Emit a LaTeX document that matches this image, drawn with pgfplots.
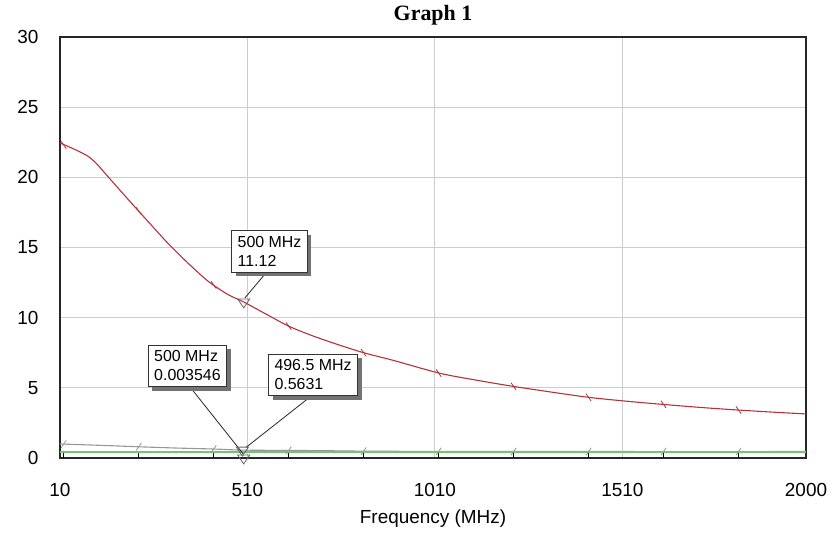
\documentclass[border=0pt]{standalone}
\usepackage{fontspec}
\setmainfont{Liberation Sans}
\newfontfamily\titlefont{Liberation Serif}
\usepackage{pgfplots}
\pgfplotsset{compat=1.18}
\usetikzlibrary{shadows}

\definecolor{curvered}{RGB}{180,50,58}
\definecolor{curvegray}{RGB}{150,150,150}
\definecolor{curvegreen}{RGB}{110,200,110}
\definecolor{gridgray}{RGB}{205,205,205}

\begin{document}
\begin{tikzpicture}[
  callout/.style={draw=black!80, fill=white, line width=0.8bp, align=left,
    font=\fontsize{16}{19}\selectfont, inner xsep=6bp, inner ysep=5.5bp,
    drop shadow={shadow xshift=4bp, shadow yshift=-4bp, fill=black!55, opacity=1}},
]
\begin{axis}[
  at={(0,0)}, anchor=south west,
  width=746bp, height=421bp, scale only axis,
  xmin=10, xmax=2000, ymin=0, ymax=30,
  xtick={10,510,1010,1510,2000},
  ytick={0,5,10,15,20,25,30},
  grid=major, major grid style={gridgray, line width=0.9bp},
  major tick length=0pt,
  xtick pos=bottom, ytick pos=left,
  axis line style={black!85, line width=1.3bp},
  tick label style={font=\fontsize{19}{22}\selectfont},
  /pgf/number format/assume math mode=true,
  /pgf/number format/set thousands separator={},
  xticklabel style={yshift=-22bp},
  yticklabel style={xshift=-18bp},
  xlabel={Frequency (MHz)},
  xlabel style={font=\fontsize{19}{22}\selectfont, yshift=-6bp},
  title={Graph 1},
  title style={font=\titlefont\bfseries\fontsize{22}{26}\selectfont, yshift=2bp},
  extra x ticks={20,220,420,620,820,1020,1220,1420,1620,1820},
  extra x tick labels={},
  extra x tick style={grid=none, major tick length=6bp, tick align=inside,
    tick style={black, line width=1bp}},
  clip=false,
]
% curves
\addplot[curvegray, line width=1.1bp, smooth] coordinates {
  (10,1.0) (120,0.9) (220,0.8) (320,0.71) (420,0.64) (496.5,0.5631) (620,0.54)
  (720,0.52) (820,0.49) (1020,0.47) (1500,0.46) (2000,0.46)};
\addplot[curvegreen, line width=2.6bp] coordinates {(10,0.42) (2000,0.42)};
\addplot[curvered, line width=1.1bp, smooth] coordinates {
  (10,22.45) (50,21.98) (85,21.5) (110,20.9) (138,20.05) (191,18.45) (245,16.85)
  (298,15.3) (351,13.9) (405,12.6) (458,11.65) (500,11.12) (560,10.25)
  (623,9.36) (700,8.55) (810,7.58) (900,6.95) (1023,6.04) (1120,5.55)
  (1220,5.1) (1320,4.7) (1421,4.32) (1520,4.05) (1618,3.82) (1720,3.6)
  (1818,3.42) (1910,3.27) (2000,3.14)};
% small series markers
\addplot[only marks, mark=|, mark size=4.5bp, mark options={rotate=35, curvered, line width=0.8bp}]
  coordinates {(20,22.3) (220,17.6) (420,12.33) (620,9.4) (820,7.5) (1020,6.05)
  (1220,5.1) (1420,4.32) (1620,3.82) (1820,3.42)};
\addplot[only marks, mark=|, mark size=4.5bp, mark options={rotate=-35, curvegray, line width=0.8bp}]
  coordinates {(20,0.99) (220,0.8) (420,0.64) (620,0.54) (820,0.49) (1020,0.47)
  (1220,0.46) (1420,0.46) (1620,0.46) (1820,0.46)};
% callout leader lines
\draw[black!85, line width=0.8bp] (axis cs:557,13.11) -- (axis cs:503,11.4);
\draw[black!85, line width=0.8bp] (axis cs:359,4.99) -- (axis cs:500,0.25);
\draw[black!85, line width=0.8bp] (axis cs:677,4.35) -- (axis cs:506,0.75);
% marker triangles
\addplot[only marks, mark=triangle, mark size=7bp,
  mark options={rotate=180, yscale=0.85, draw=black!60, fill=white, line width=0.8bp}]
  coordinates {(500,11.12) (496.5,0.5631) (500,0.003546)};
% callouts
\node[callout] at (axis cs:569,14.72) {500 MHz\\11.12};
\node[callout] at (axis cs:350,6.56) {500 MHz\\0.003546};
\node[callout] at (axis cs:685,5.92) {496.5 MHz\\0.5631};
\end{axis}
\pgfresetboundingbox
\path[use as bounding box] (-60bp,-77bp) rectangle (772bp,458bp);
\end{tikzpicture}
\end{document}
